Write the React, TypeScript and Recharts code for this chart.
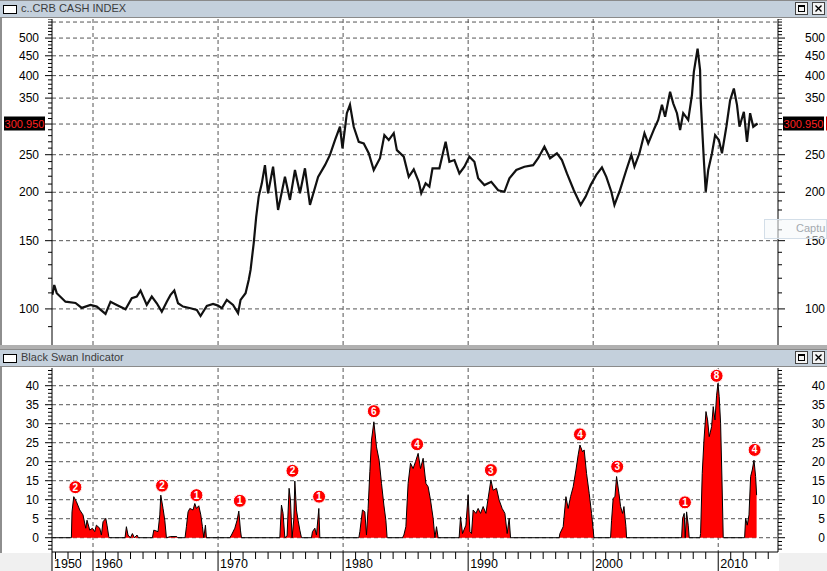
import React from 'react';
import {
  LineChart,
  Line,
  ComposedChart,
  Area,
  Scatter,
  XAxis,
  YAxis,
  CartesianGrid,
  ReferenceLine,
} from 'recharts';

const FONT = '"Liberation Sans", Arial, sans-serif';

// CRB cash index, upper pane (decimal year -> index level)
const CRB_YEAR = [
  1956.75, 1956.9, 1957.1, 1957.8, 1958.6, 1959.1, 1959.8,
  1960.3, 1961.0, 1961.4, 1961.9, 1962.6, 1963.1, 1963.5, 1963.8, 1964.3, 1964.7, 1965.1, 1965.5, 1965.9,
  1966.2, 1966.5, 1966.8, 1967.2, 1967.8, 1968.3, 1968.6, 1969.1, 1969.6,
  1970.0, 1970.3, 1970.7, 1971.2, 1971.6, 1971.8, 1972.2, 1972.45, 1972.6, 1972.85,
  1973.05, 1973.25, 1973.5, 1973.75, 1974.0, 1974.4, 1974.8, 1975.35, 1975.75,
  1976.15, 1976.55, 1976.95, 1977.35, 1978.0, 1978.55, 1978.95, 1979.35, 1979.75, 1979.95,
  1980.3, 1980.55, 1980.85, 1981.25, 1981.65, 1982.05, 1982.45, 1982.95, 1983.3, 1983.65,
  1984.05, 1984.3, 1984.85, 1985.25, 1985.65, 1986.05, 1986.25, 1986.6, 1986.9,
  1987.15, 1987.7, 1988.2, 1988.5, 1988.9, 1989.3, 1989.7,
  1990.1, 1990.5, 1990.8, 1991.3, 1991.85, 1992.4, 1992.9, 1993.3, 1993.85,
  1994.5, 1995.2, 1995.6, 1996.1, 1996.55, 1997.1, 1997.5, 1997.9, 1998.45, 1999.0, 1999.4, 1999.8,
  2000.25, 2000.7, 2001.05, 2001.45, 2001.7, 2001.95, 2002.1, 2002.65, 2003.05, 2003.3, 2003.7,
  2004.1, 2004.4, 2004.9, 2005.2, 2005.5, 2005.75, 2006.15, 2006.4, 2006.7, 2006.95,
  2007.2, 2007.6, 2007.9, 2008.05, 2008.35, 2008.55, 2008.6, 2008.75, 2008.85, 2009.0,
  2009.2, 2009.5, 2009.75, 2010.05, 2010.3, 2010.65, 2010.95, 2011.25, 2011.5, 2011.7,
  2012.05, 2012.3, 2012.55, 2012.8, 2013.15,
];
const CRB_CLOSE = [
  108.7, 115.3, 109.8, 104.4, 103.6, 100.6, 102.4,
  101.4, 97.1, 104.4, 102.4, 99.8, 106.6, 107.6, 111.5, 102.4, 107.6, 103.4, 98.4, 104.4,
  108.7, 111.5, 103.4, 101.4, 100.4, 99.4, 95.9, 101.8, 103.0,
  102.0, 100.4, 105.5, 102.4, 97.5, 105.5, 109.8, 118.8, 126.1, 147.7,
  172.9, 194.9, 210.9, 235, 198.8, 232.8, 180.1, 219.2, 191.1,
  228.3, 198.8, 230.6, 185.5, 219.2, 235, 249.7, 272.7, 295.2, 259.5,
  320, 336.3, 295.2, 269.9, 267.3, 252.2, 228.3, 244.8, 280.9, 272.7,
  284.2, 256.9, 247.2, 219.2, 229.1, 212.9, 198.8, 210.9, 206.9,
  230.6, 230.6, 269.9, 239.8, 242.2, 223.7, 232.8,
  247.2, 239.8, 217.3, 208.7, 212.9, 202.4, 200.6, 217.3, 228.3,
  232.8, 235, 244.8, 262.1, 244.8, 252.2, 242.2, 223.7, 202.4, 185.5, 194.9, 208.7,
  221.7, 231.8, 219.2, 200.6, 185.5, 194.9, 200.6, 228.3, 249.7, 232.8, 252.2,
  284.2, 267.3, 292.7, 307.4, 336.3, 313.1, 363.5, 339.3, 320, 289.5,
  320, 307.4, 356.8, 409.2, 469.7, 413.2, 345.3, 278.4, 242.2, 200.6,
  228.3, 252.2, 280.9, 272.7, 252.2, 295.2, 345.3, 370.6, 336.3, 295.2,
  322.6, 269.9, 320, 295.2, 300.95,
];
const LAST_CLOSE = 300.95;

// Black Swan indicator, lower pane
const BSI_YEAR = [
  1956.75,
  1958.27, 1958.32, 1958.46, 1958.67, 1958.94, 1959.2, 1959.42, 1959.52, 1959.74, 1959.95,
  1960.14, 1960.27, 1960.54, 1960.67, 1960.8, 1961.02, 1961.12, 1961.26, 1961.34,
  1962.56, 1962.67, 1962.8, 1962.99, 1963.15, 1963.31, 1963.52, 1963.63,
  1964.75, 1964.86, 1965.2, 1965.34, 1965.42, 1965.6, 1965.74, 1965.87, 1966.2, 1966.7, 1966.78,
  1967.36, 1967.47, 1967.6, 1967.74, 1968.0, 1968.14, 1968.27, 1968.46, 1968.62, 1968.75, 1968.86, 1968.99, 1969.07,
  1970.94, 1971.07, 1971.34, 1971.52, 1971.66, 1971.79, 1971.87,
  1974.94, 1975.07, 1975.2, 1975.34, 1975.52, 1975.68, 1975.79, 1975.92, 1976.06, 1976.14, 1976.27, 1976.4, 1976.54, 1976.67,
  1977.47, 1977.55, 1977.74, 1977.87, 1978.06, 1978.14,
  1981.26, 1981.34, 1981.55, 1981.74, 1981.87, 1982.0, 1982.14, 1982.27, 1982.46, 1982.67, 1982.88, 1983.07, 1983.26, 1983.42, 1983.52,
  1984.75, 1984.86, 1985.02, 1985.2, 1985.39, 1985.6, 1985.79, 1986.0, 1986.19, 1986.4, 1986.62, 1986.8, 1986.99, 1987.2, 1987.34, 1987.47, 1987.6,
  1989.28, 1989.39, 1989.55, 1989.82, 1990.0, 1990.14, 1990.27, 1990.4, 1990.62, 1990.8, 1990.99, 1991.2, 1991.42, 1991.6, 1991.82, 1992.0, 1992.27, 1992.48, 1992.72, 1992.94, 1993.12, 1993.28, 1993.39,
  1997.28, 1997.34, 1997.6, 1997.82, 1998.0, 1998.19, 1998.4, 1998.62, 1998.8, 1998.94, 1999.15, 1999.28, 1999.47, 1999.68, 1999.87, 2000.06,
  2001.39, 2001.47, 2001.6, 2001.74, 2001.87, 2002.06, 2002.19, 2002.35, 2002.46, 2002.62, 2002.67,
  2007.07, 2007.15, 2007.28, 2007.36, 2007.47, 2007.6, 2007.68,
  2008.54, 2008.59, 2008.72, 2008.86, 2009.02, 2009.15, 2009.28, 2009.47, 2009.6, 2009.74, 2009.87, 2009.98, 2010.08, 2010.19, 2010.3, 2010.4,
  2012.11, 2012.19, 2012.32, 2012.46, 2012.59, 2012.72, 2012.86, 2012.99, 2013.07,
];
const BSI_VALUE = [
  0,
  0, 6.8, 10.8, 9.5, 7.3, 6, 2.5, 4.6, 2, 2.5,
  1.6, 3.3, 2.5, 0.7, 4.2, 5.1, 3.3, 0.3, 0,
  0, 2.9, 0.7, 0, 1.1, 0, 0.7, 0,
  0, 2, 1.6, 6, 11.2, 7.7, 4.6, 0, 0.3, 0.3, 0,
  0, 2.9, 6.8, 7.7, 7.3, 9, 7.7, 8.4, 6, 2.9, 0, 3.3, 0,
  0, 0.7, 2.5, 4.6, 7, 2, 0,
  0, 8.6, 6.4, 0, 0.5, 13, 9.9, 0, 5, 14.9, 7.3, 4.6, 2, 0,
  0, 1.6, 2.5, 0.7, 7.7, 0,
  0, 1.6, 7.3, 6.8, 0.7, 7.7, 17.4, 25.7, 30.5, 23.9, 20.4, 14.3, 8.6, 4.6, 0,
  0, 0.7, 2.9, 14.3, 19.6, 18.2, 20, 22.2, 18.2, 20.9, 14.3, 13.4, 9.9, 5.1, 0, 2.9, 0,
  0, 5.5, 1.1, 3.3, 11.2, 1.6, 1.1, 7.3, 6.4, 7.7, 6.4, 8.2, 6.4, 10.4, 15.2, 12.5, 13, 9.9, 7.7, 6.4, 1.1, 5.1, 0,
  0, 1.1, 2.9, 10.8, 7.7, 10.8, 13.4, 17.8, 21.8, 24.4, 22.6, 23.1, 16.9, 11.7, 6.4, 0,
  0, 4.6, 10.4, 10.8, 16.1, 11.7, 8.2, 6.4, 8.2, 2.9, 0,
  0, 5.1, 6.4, 0, 6.8, 3.3, 0,
  0, 1.1, 16.9, 25.7, 33.2, 31, 26.6, 29.2, 34.5, 31, 37.5, 40.6, 37.1, 30.1, 15.2, 0,
  0, 5.1, 3.3, 6, 16.1, 17.8, 20.4, 16.1, 11.2,
];

// numbered flags above each cluster
const FLAG_YEAR = [1958.59, 1965.52, 1968.27, 1971.74, 1975.95, 1978.08, 1982.46, 1985.92, 1991.82, 1998.94, 2001.92, 2007.34, 2009.87, 2012.91];
const FLAG_VALUE = [13.3, 13.7, 11.2, 9.7, 17.6, 10.8, 33.3, 24.6, 17.8, 27.2, 18.7, 9.3, 42.6, 23.1];
const FLAG_COUNT = [2, 2, 1, 1, 2, 1, 6, 4, 3, 4, 3, 1, 8, 4];

// axes
const FIRST_BAR = 1956.72;
const FIRST_LABEL = '1950';
const LAST_YEAR = 2014.78;
const DECADES = [1960, 1970, 1980, 1990, 2000, 2010];
const CRB_MAJOR = [100, 150, 200, 250, 300, 350, 400, 450, 500];
// the 300 label sits under the last-price box, so it is not printed
const CRB_LABELS = [100, 150, 200, 250, 350, 400, 450, 500];
const CRB_GRID = [...CRB_MAJOR, 550];
const BSI_LABELS = [0, 5, 10, 15, 20, 25, 30, 35, 40];

const range = (a: number, b: number, step: number) => {
  const out: number[] = [];
  for (let v = a; v <= b; v += step) out.push(v);
  return out;
};
const CRB_MINOR = range(90, 560, 10);
const BSI_MINOR = range(-3, 44, 1);
const YEAR_TICKS = [FIRST_BAR, ...range(1957, 2014, 1)];

const crbRows = CRB_YEAR.map((t, i) => ({ t, v: CRB_CLOSE[i] }));
const bsiRows = BSI_YEAR.map((t, i) => ({ t, v: BSI_VALUE[i] }));
const flagRows = FLAG_YEAR.map((t, i) => ({ t, v: FLAG_VALUE[i], n: FLAG_COUNT[i] }));

const yTick = (side: 'l' | 'r', major: number[], labels: number[]) => (p: any) => {
  const v = p.payload.value;
  const long = major.includes(v);
  const dir = side === 'l' ? -1 : 1;
  return (
    <g>
      <line x1={p.x} x2={p.x + dir * (long ? 7 : 4)} y1={p.y} y2={p.y} stroke="#000" />
      {labels.includes(v) && (
        <text
          x={side === 'l' ? p.x - 13 : p.x + 47}
          y={p.y}
          dy={4}
          textAnchor="end"
          fontFamily={FONT}
          fontSize={12}
          fill="#000"
        >
          {v}
        </text>
      )}
    </g>
  );
};

const xTick = (p: any) => {
  const v = p.payload.value;
  const first = v === FIRST_BAR;
  const long = first || DECADES.includes(v);
  return (
    <g>
      <line x1={p.x} x2={p.x} y1={p.y} y2={p.y + (long ? 19 : 7)} stroke="#000" />
      {long && (
        <text x={p.x + 2} y={p.y + 16} fontFamily={FONT} fontSize={12.5} fill="#000">
          {first ? FIRST_LABEL : v}
        </text>
      )}
    </g>
  );
};

const lastLabel = (p: any) => {
  const vb = p.viewBox;
  const boxes = [vb.x - 48, vb.x + vb.width + 5];
  return (
    <g>
      {boxes.map((bx, i) => (
        <g key={i}>
          <rect x={bx} y={vb.y - 7} width={41} height={14} fill="#000" />
          <text
            x={bx + 20.5}
            y={vb.y}
            dy={4}
            textAnchor="middle"
            fontFamily={FONT}
            fontSize={11}
            fill="#ff2020"
          >
            {LAST_CLOSE.toFixed(3)}
          </text>
        </g>
      ))}
      <rect x={vb.x + vb.width + 48} y={vb.y - 7} width={2} height={14} fill="#d00" />
    </g>
  );
};

const flagShape = (p: any) => (
  <g>
    <circle cx={p.cx} cy={p.cy} r={6.5} fill="#ff0000" stroke="#fff" strokeWidth={1} />
    <text
      x={p.cx}
      y={p.cy}
      dy={3.5}
      textAnchor="middle"
      fontFamily={FONT}
      fontSize={10}
      fontWeight="bold"
      fill="#fff"
    >
      {p.payload.n}
    </text>
  </g>
);

function TitleBar({ top, title }: { top: number; title: string }) {
  return (
    <div
      style={{
        position: 'absolute',
        left: 0,
        top,
        width: 827,
        height: 18,
        boxSizing: 'border-box',
        background: '#c4d0dc',
        borderTop: '1px solid #8a8a8a',
        borderBottom: '1px solid #8a8a8a',
        fontFamily: FONT,
      }}
    >
      <div
        style={{
          position: 'absolute',
          left: 3,
          top: 4,
          width: 14,
          height: 9,
          boxSizing: 'border-box',
          background: '#fff',
          border: '1px solid #000',
        }}
      />
      <div style={{ position: 'absolute', left: 21, top: 1, fontSize: 11, color: '#3c3c3c' }}>{title}</div>
      {[795, 812].map((bx, i) => (
        <div
          key={bx}
          style={{
            position: 'absolute',
            left: bx,
            top: 1,
            width: 13,
            height: 13,
            boxSizing: 'border-box',
            background: '#f4f4f4',
            border: '1px solid #444',
          }}
        >
          {i === 0 ? (
            <div
              style={{
                position: 'absolute',
                left: 2,
                top: 2,
                width: 7,
                height: 7,
                boxSizing: 'border-box',
                border: '1px solid #000',
                borderTopWidth: 2,
              }}
            />
          ) : (
            <svg width={11} height={11} style={{ position: 'absolute', left: 0, top: 0 }}>
              <path d="M2.5 2.5 L8.5 8.5 M8.5 2.5 L2.5 8.5" stroke="#000" strokeWidth={1.4} />
            </svg>
          )}
        </div>
      ))}
    </div>
  );
}

export default function App() {
  return (
    <div
      style={{
        position: 'absolute',
        left: 0,
        top: 0,
        width: 827,
        height: 571,
        overflow: 'hidden',
        background: '#fff',
      }}
    >
      <div style={{ position: 'absolute', left: 0, top: 0, width: 2, height: 553, background: '#8e8e8e' }} />
      <div style={{ position: 'absolute', left: 0, top: 345, width: 827, height: 4, background: '#b0b0b0' }} />
      <div style={{ position: 'absolute', left: 0, top: 553, width: 52, height: 18, background: '#f0f0f0' }} />
      <div style={{ position: 'absolute', left: 779, top: 553, width: 48, height: 18, background: '#f0f0f0' }} />
      <TitleBar top={0} title="c..CRB CASH INDEX" />
      <TitleBar top={349} title="Black Swan Indicator" />

      <div style={{ position: 'absolute', left: 0, top: 19 }}>
        <LineChart width={827} height={326} data={crbRows} margin={{ top: 0, right: 0, bottom: 0, left: 0 }}>
          <CartesianGrid
            stroke="#555"
            strokeDasharray="4 3"
            horizontalValues={CRB_GRID}
            verticalValues={DECADES}
          />
          <XAxis
            dataKey="t"
            type="number"
            domain={[FIRST_BAR, LAST_YEAR]}
            allowDataOverflow
            ticks={DECADES}
            hide
          />
          <YAxis
            dataKey="v"
            type="number"
            scale="log"
            domain={[80.7, 560]}
            allowDataOverflow
            ticks={CRB_MINOR}
            interval={0}
            tickSize={0}
            tickMargin={0}
            width={52}
            axisLine={{ stroke: '#000' }}
            tickLine={false}
            tick={yTick('l', CRB_MAJOR, CRB_LABELS)}
          />
          <YAxis
            yAxisId="r"
            orientation="right"
            type="number"
            scale="log"
            domain={[80.7, 560]}
            allowDataOverflow
            ticks={CRB_MINOR}
            interval={0}
            tickSize={0}
            tickMargin={0}
            width={49}
            axisLine={{ stroke: '#000' }}
            tickLine={false}
            tick={yTick('r', CRB_MAJOR, CRB_LABELS)}
          />
          <ReferenceLine y={LAST_CLOSE} stroke="none" label={lastLabel} />
          <Line
            dataKey="v"
            type="linear"
            stroke="#111"
            strokeWidth={2.2}
            dot={false}
            isAnimationActive={false}
          />
        </LineChart>
      </div>

      <div
        style={{
          position: 'absolute',
          left: 764,
          top: 219,
          width: 63,
          height: 20,
          boxSizing: 'border-box',
          border: '1px solid #d3dee8',
          background: 'rgba(244,247,250,0.55)',
          fontFamily: FONT,
          fontSize: 11,
          lineHeight: '13px',
          color: '#a4aab0',
        }}
      >
        <span style={{ position: 'absolute', left: 31, top: 2 }}>Captu</span>
      </div>

      <div style={{ position: 'absolute', left: 0, top: 368 }}>
        <ComposedChart width={827} height={203} data={bsiRows} margin={{ top: 0, right: 0, bottom: 0, left: 0 }}>
          <CartesianGrid
            stroke="#555"
            strokeDasharray="4 3"
            horizontalValues={BSI_LABELS}
            verticalValues={DECADES}
          />
          <XAxis
            dataKey="t"
            type="number"
            domain={[FIRST_BAR, LAST_YEAR]}
            allowDataOverflow
            ticks={YEAR_TICKS}
            interval={0}
            tickSize={0}
            tickMargin={0}
            height={19}
            axisLine={{ stroke: '#000' }}
            tickLine={false}
            tick={xTick}
          />
          <YAxis
            dataKey="v"
            type="number"
            domain={[-3.76, 44.66]}
            allowDataOverflow
            ticks={BSI_MINOR}
            interval={0}
            tickSize={0}
            tickMargin={0}
            width={52}
            axisLine={{ stroke: '#000' }}
            tickLine={false}
            tick={yTick('l', BSI_LABELS, BSI_LABELS)}
          />
          <YAxis
            yAxisId="r"
            orientation="right"
            type="number"
            domain={[-3.76, 44.66]}
            allowDataOverflow
            ticks={BSI_MINOR}
            interval={0}
            tickSize={0}
            tickMargin={0}
            width={49}
            axisLine={{ stroke: '#000' }}
            tickLine={false}
            tick={yTick('r', BSI_LABELS, BSI_LABELS)}
          />
          <Area
            dataKey="v"
            type="linear"
            baseValue={0}
            stroke="#000"
            strokeWidth={1}
            fill="#ff0000"
            fillOpacity={1}
            isAnimationActive={false}
          />
          <Scatter data={flagRows} dataKey="v" shape={flagShape} isAnimationActive={false} />
        </ComposedChart>
      </div>
    </div>
  );
}
